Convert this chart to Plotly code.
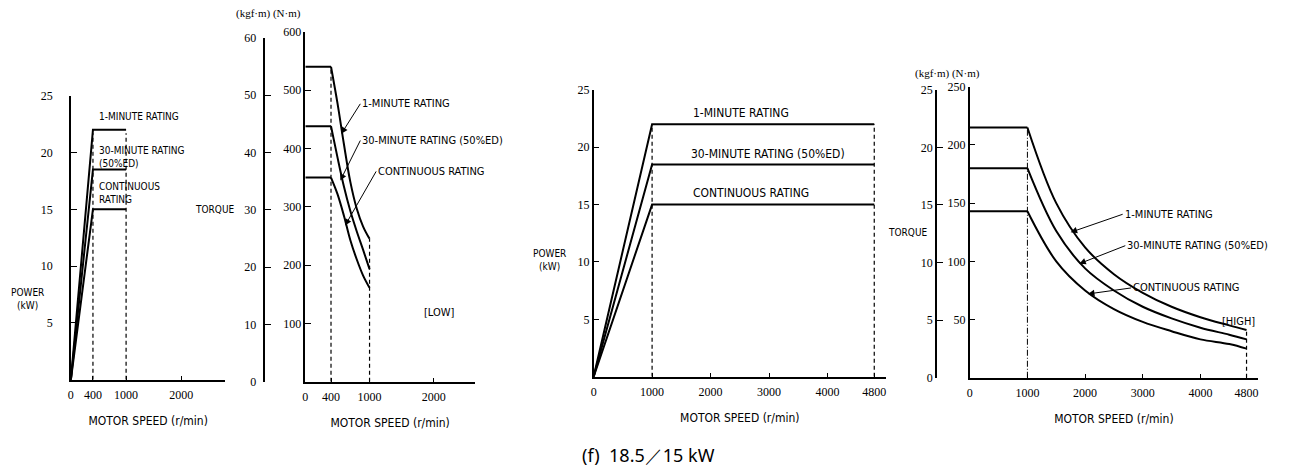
import plotly.graph_objects as go

W, H = 1289, 476
OFF = 8  # page body margin in the browser

# ---- data ----
rating_names = ["1-MINUTE RATING", "30-MINUTE RATING (50%ED)", "CONTINUOUS RATING"]

# LOW gear: power vs speed
low_speed = [0, 400, 1000]
low_power = {
    "1min": [0, 22, 22],
    "30min": [0, 18.5, 18.5],
    "cont": [0, 15, 15],
}
# LOW gear: torque (N·m) vs speed
low_torque_speed = [0, 400, 500, 600, 700, 800, 900, 1000]
low_torque = {
    "1min": [540, 540, 478, 408, 343, 297, 266, 245],
    "30min": [438, 438, 385, 335, 293, 258, 226, 193],
    "cont": [350, 350, 322, 285, 243, 210, 182, 161],
}

# HIGH gear: power vs speed
high_speed = [0, 1000, 4800]
high_power = {
    "1min": [0, 22, 22],
    "30min": [0, 18.5, 18.5],
    "cont": [0, 15, 15],
}
# HIGH gear: torque (N·m) vs speed
high_torque_speed = [0, 1000, 1500, 2000, 2500, 3000, 3500, 4000, 4500, 4800]
high_torque = {
    "1min": [215, 215, 150, 112, 89, 73, 61, 52, 45, 41],
    "30min": [180, 180, 126, 94, 75, 61, 51, 43, 37, 33],
    "cont": [143, 143, 100, 75, 59, 48, 40, 33, 29, 25],
}

low_x_ticks = [0, 400, 1000, 2000]
high_x_ticks = [0, 1000, 2000, 3000, 4000, 4800]
power_ticks = [5, 10, 15, 20, 25]
low_nm_ticks = [100, 200, 300, 400, 500, 600]
low_kgf_ticks = [0, 10, 20, 30, 40, 50, 60]
high_nm_ticks = [50, 100, 150, 200, 250]
high_kgf_ticks = [0, 5, 10, 15, 20, 25]

FW, FH = W - OFF, H - OFF


def px(x):
    return (x - OFF) / FW


def py(y):
    # the page comes out slightly squeezed vertically, so undo that
    yd = (y - 7.5) / 0.97
    return 1 - (yd - OFF) / FH


TEXT_FONT = "Liberation Sans Narrow, DejaVu Sans Condensed, Arial Narrow, sans-serif"
NUM_FONT = "Liberation Serif, DejaVu Serif, serif"
LINE = dict(color="black", width=2)
DASH = dict(color="black", width=1.2, dash="4px,3px")

fig = go.Figure()


def add_line(x, y, xa, ya, line=LINE, shape="linear"):
    fig.add_trace(go.Scatter(x=x, y=y, xaxis=xa, yaxis=ya, mode="lines",
                             line=dict(**line, shape=shape), hoverinfo="skip",
                             showlegend=False))


# panel 1: low power
for k in low_power:
    add_line(low_speed, low_power[k], "x", "y")
for s in low_speed[1:]:
    add_line([s, s], [0, max(v[low_speed.index(s)] for v in low_power.values()) - 0.3], "x", "y", DASH)

# panel 2: low torque
i0 = low_torque_speed.index(400)
for k in low_torque:
    add_line(low_torque_speed[:i0 + 1], low_torque[k][:i0 + 1], "x2", "y2")
    add_line(low_torque_speed[i0:], low_torque[k][i0:], "x2", "y2", shape="spline")
add_line([400, 400], [0, low_torque["1min"][i0]], "x2", "y2", DASH)
add_line([1000, 1000], [0, low_torque["1min"][-1]], "x2", "y2", DASH)

# panel 3: high power
for k in high_power:
    add_line(high_speed, high_power[k], "x3", "y3")
for s in high_speed[1:]:
    add_line([s, s], [0, high_power["1min"][high_speed.index(s)]], "x3", "y3", DASH)

# panel 4: high torque
j0 = high_torque_speed.index(1000)
for k in high_torque:
    add_line(high_torque_speed[:j0 + 1], high_torque[k][:j0 + 1], "x4", "y4")
    add_line(high_torque_speed[j0:], high_torque[k][j0:], "x4", "y4", shape="spline")
add_line([1000, 1000], [0, high_torque["1min"][j0]], "x4", "y4",
         dict(color="black", width=1, dash="6px,2px,1px,2px"))
add_line([4800, 4800], [0, high_torque["1min"][-1]], "x4", "y4", DASH)

# helper traces so the kgf·m axes get drawn
for ya in ["y5", "y6"]:
    fig.add_trace(go.Scatter(x=[0], y=[0], xaxis="x2" if ya == "y5" else "x4", yaxis=ya,
                             mode="markers", marker=dict(opacity=0), hoverinfo="skip",
                             showlegend=False))

axis_common = dict(showgrid=False, zeroline=False, showline=True, linecolor="black",
                   linewidth=1.5, ticks="inside", ticklen=6, tickcolor="black",
                   tickwidth=1.2, tickfont=dict(family=NUM_FONT, size=12, color="black"))

xtitle = dict(text="MOTOR SPEED (r/min)", font=dict(family=TEXT_FONT, size=12, color="black"),
              standoff=16)
xextra = dict(title=xtitle, ticklen=4, ticklabelstandoff=3)

fig.update_layout(
    width=FW, height=FH,
    margin=dict(l=0, r=0, t=0, b=0),
    paper_bgcolor="white", plot_bgcolor="rgba(0,0,0,0)",
    showlegend=False,
    xaxis=dict(axis_common, **xextra, domain=[px(68), px(223)], range=[0, 2800], anchor="y",
               tickvals=low_x_ticks),
    yaxis=dict(axis_common, domain=[py(380), py(96)], range=[0, 25], anchor="x",
               tickvals=power_ticks, ticklabelstandoff=14),
    xaxis2=dict(axis_common, **xextra, domain=[px(303), px(473)], range=[0, 2640], anchor="y2",
                tickvals=low_x_ticks),
    yaxis2=dict(axis_common, domain=[py(382), py(32)], range=[0, 600], anchor="x2",
                tickvals=low_nm_ticks),
    yaxis5=dict(axis_common, domain=[py(382), py(38)], range=[0, 60], anchor="free",
                position=px(262), tickvals=low_kgf_ticks, ticklabelstandoff=5),
    xaxis3=dict(axis_common, **xextra, domain=[px(592), px(885)], range=[0, 5000], anchor="y3",
                tickvals=high_x_ticks),
    yaxis3=dict(axis_common, domain=[py(377), py(90)], range=[0, 25], anchor="x3",
                tickvals=power_ticks),
    xaxis4=dict(axis_common, **xextra, domain=[px(969), px(1258)], range=[0, 5000], anchor="y4",
                tickvals=high_x_ticks),
    yaxis4=dict(axis_common, domain=[py(378), py(87)], range=[0, 250], anchor="x4",
                tickvals=high_nm_ticks),
    yaxis6=dict(axis_common, domain=[py(378), py(90)], range=[0, 25], anchor="free",
                position=px(935), tickvals=high_kgf_ticks),
)


def label(x, y, text, size=11, family=TEXT_FONT, xanchor="left", align="left"):
    fig.add_annotation(x=px(x), y=py(y), xref="paper", yref="paper", text=text,
                       showarrow=False, xanchor=xanchor, yanchor="middle", align=align,
                       font=dict(family=family, size=size, color="black"))


def arrow_label(xa, ya, x, y, ax, ay, text, size=11):
    fig.add_annotation(x=x, y=y, xref=xa, yref=ya, ax=ax, ay=ay, text=text,
                       showarrow=True, arrowhead=2, arrowsize=1.3, arrowwidth=1,
                       arrowcolor="black", xanchor="left", yanchor="middle",
                       font=dict(family=TEXT_FONT, size=size, color="black"))


# panel 1 texts
label(25, 299, "POWER<br>(kW)", size=10, xanchor="center", align="center")
label(94, 117, "1-MINUTE RATING", size=10)
label(94, 157, "30-MINUTE RATING<br>(50%ED)", size=10)
label(94, 193, "CONTINUOUS<br>RATING", size=10)
label(190, 210, "TORQUE", size=10)

# panel 2 texts
label(232, 14, "(kgf·m) (N·m)", size=11, family=NUM_FONT)
arrow_label("x2", "y2", 560, 425, 19, -30, rating_names[0])
arrow_label("x2", "y2", 545, 345, 20, -40, rating_names[1])
arrow_label("x2", "y2", 620, 268, 31, -54, rating_names[2])
label(420, 313, "[LOW]", size=11)

# panel 3 texts
label(690, 113, rating_names[0], size=12)
label(688, 154, rating_names[1], size=12)
label(690, 193, rating_names[2], size=12)
label(548, 260, "POWER<br>(kW)", size=10, xanchor="center", align="center")
label(885, 233, "TORQUE", size=10)

# panel 4 texts
label(912, 74, "(kgf·m) (N·m)", size=11, family=NUM_FONT)
arrow_label("x4", "y4", 1750, 125, 52, -18, rating_names[0])
arrow_label("x4", "y4", 1900, 98, 46, -18, rating_names[1])
arrow_label("x4", "y4", 2050, 72, 43, -6, rating_names[2])
label(1220, 322, "[HIGH]", size=11)

# caption
label(647, 455, "(f)  18.5／15 kW", size=18, family="Noto Sans, Liberation Sans, sans-serif",
      xanchor="center", align="center")

fig.write_html("out.html")
